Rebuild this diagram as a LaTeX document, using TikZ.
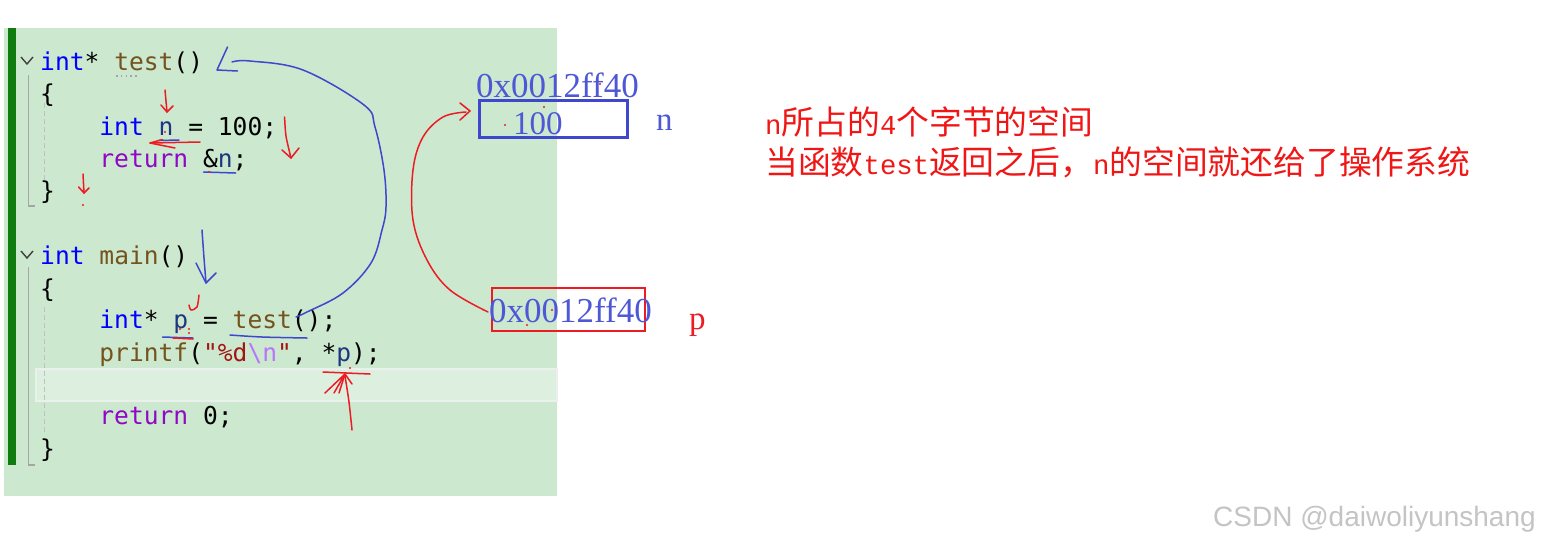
\documentclass[tikz,border=0pt]{standalone}
\usepackage{fontspec}
\newfontfamily\codefont{DejaVu Sans Mono}
\newfontfamily\cjk{Noto Sans CJK SC}
\newfontfamily\lmono{Liberation Mono}[Scale=0.833]
\newfontfamily\annot{Liberation Serif}
\newfontfamily\wmfont{Liberation Sans}
\definecolor{bg}{RGB}{204,232,207}
\definecolor{hl}{RGB}{221,239,222}
\definecolor{hlb}{RGB}{234,240,235}
\definecolor{bar}{RGB}{16,124,16}
\definecolor{kw}{RGB}{0,0,255}
\definecolor{fn}{RGB}{116,83,31}
\definecolor{var}{RGB}{31,55,127}
\definecolor{ctl}{RGB}{143,8,196}
\definecolor{str}{RGB}{163,21,21}
\definecolor{esc}{RGB}{183,118,251}
\definecolor{pblue}{RGB}{63,72,204}
\definecolor{pred}{RGB}{237,28,36}
\definecolor{ablue}{RGB}{78,88,214}
\definecolor{cred}{RGB}{240,22,22}
\definecolor{guide}{RGB}{165,165,165}
\definecolor{wmgray}{RGB}{196,196,196}
\tikzset{
  code/.style={anchor=base west, inner sep=0pt, font=\codefont\fontsize{24.6}{30}\selectfont},
  ann/.style={anchor=base west, inner sep=0pt, font=\annot\fontsize{33}{36}\selectfont, text=ablue},
  addr/.style={ann, font=\annot\fontsize{35}{38}\selectfont},
  note/.style={anchor=base west, inner sep=0pt, font=\cjk\fontsize{32.8}{36}\selectfont, text=cred},
  pen/.style={line width=1.5pt, line cap=round, line join=round},
  bpen/.style={pen, draw=pblue},
  rpen/.style={pen, draw=pred},
  rdot/.style={fill=pred, draw=none},
  chev/.style={draw=black!75, line width=1.4pt},
  guideline/.style={draw=guide, line width=1.2pt},
  dguide/.style={draw=guide!70, line width=1pt, dash pattern=on 5pt off 3pt},
}
\begin{document}
\begin{tikzpicture}[x=1pt,y=-1pt]
\useasboundingbox (0,0) rectangle (1541,542);
\fill[white] (0,0) rectangle (1541,542);
% editor background
\fill[bg] (4,28) rectangle (557,496);
\fill[bar] (8,28) rectangle (16,465);
\draw[fill=hl, draw=hlb, line width=2pt] (36,369) rectangle (557,401);
% guides
\draw[chev] (21,57) -- (27,64) -- (33,57);
\draw[chev] (21,251) -- (27,258) -- (33,251);
\draw[guideline] (28.6,75) -- (28.6,206) -- (35,206);
\draw[guideline] (28.6,267) -- (28.6,465) -- (35,465);
\draw[dguide] (44.6,103) -- (44.6,183);
\draw[dguide] (44.6,307) -- (44.6,433);
% code
\node[code] (l1) at (40,70) {\textcolor{kw}{int}* \textcolor{fn}{test}()};
\draw[draw=guide, line width=1.6pt, dash pattern=on 1.6pt off 3.2pt] (116,76) -- (138,76);
\node[code] (l2) at (40,102) {\{};
\node[code] (l3) at (99.2,135) {\textcolor{kw}{int} \textcolor{var}{n} = 100;};
\node[code] (l4) at (99.2,167) {\textcolor{ctl}{return} \&\textcolor{var}{n};};
\node[code] (l5) at (40,199) {\}};
\node[code] (l6) at (40,264) {\textcolor{kw}{int} \textcolor{fn}{main}()};
\node[code] (l7) at (40,297) {\{};
\node[code] (l8) at (99.2,328) {\textcolor{kw}{int}* \textcolor{var}{p} = \textcolor{fn}{test}();};
\node[code] (l9) at (99.2,361) {\textcolor{fn}{printf}(\textcolor{str}{"\%d}\textcolor{esc}{\textbackslash n}\textcolor{str}{"}, *\textcolor{var}{p});};
\node[code] (l10) at (99.2,424) {\textcolor{ctl}{return} 0;};
\node[code] (l11) at (40,457) {\}};
% memory boxes
\node[draw=pblue, line width=3pt, minimum width=148pt, minimum height=37pt, inner sep=0pt] (nbox) at (553,118.5) {};
\node[draw=pred, line width=2pt, minimum width=153pt, minimum height=43pt, inner sep=0pt] (pbox) at (568.5,309.5) {};
\node[addr] (naddr) at (476,97) {0x0012ff40};
\node[ann] (nval) at (513,134) {100};
\node[ann] (nname) at (656,130) {n};
\node[addr] (pval) at (489,322) {0x0012ff40};
\node[ann, text=pred] (pname) at (689,329) {p};
% notes
\node[note] (note1) at (765,134) {{\lmono n}所占的{\lmono 4}个字节的空间};
\node[note] (note2) at (765,174) {当函数{\lmono test}返回之后，{\lmono n}的空间就还给了操作系统};
% watermark
\node[anchor=base west, inner sep=0pt, font=\wmfont\fontsize{28}{30}\selectfont, text=wmgray] (wm) at (1213,526) {CSDN @daiwoliyunshang};
% blue strokes
\coordinate (callT) at (296,317);
\coordinate (defT) at (232,62);
\draw[bpen] plot[smooth, tension=0.6] coordinates {(callT) (307,312) (343,293) (371,263) (382,230) (386,207) (384,170) (375,127) (364,105) (303,70) (250,61) (defT)};
\draw[bpen] (227.5,47) -- (217,70) -- (237.5,71);
\draw[bpen] (203.6,172) -- (235.7,173);
\draw[bpen] (159,140.5) -- (179,140);
\draw[bpen] plot[smooth] coordinates {(202,230) (204,258) (206,283)};
\draw[bpen] (196,263) -- (206,283) -- (216,273);
\draw[bpen] (162.5,337) -- (193,338);
\draw[bpen] plot[smooth] coordinates {(230,335) (262,337) (307,338)};
% red strokes
\coordinate (pfrom) at (488,312);
\coordinate (nto) at (466,112);
\draw[rpen] plot[smooth, tension=0.6] coordinates {(pfrom) (450,290) (427,260) (413,220) (413,170) (423,137) (443,117) (nto)};
\draw[rpen] (460,103) -- (470,111) -- (460,120);
\draw[rpen] (165,90) -- (167,112);
\draw[rpen] (161,105) -- (167,112) -- (173,106);
\draw[rpen] (200,142) -- (150,143);
\draw[rpen] (162.5,139.5) -- (150,143) -- (175,148);
\draw[rpen] plot[smooth] coordinates {(284.6,117) (286,136) (291,158)};
\draw[rpen] (282,150) -- (291,158) -- (299,148);
\draw[rpen] (83,174) -- (84,193);
\draw[rpen] (78.6,187) -- (84,193) -- (89,188);
\draw[rpen] plot[smooth] coordinates {(199,295) (197,307) (191,310) (189,305)};
\draw[rpen] (173,338) -- (193,339);
\draw[rpen] plot[smooth] coordinates {(352,430) (349,402) (345,376)};
\draw[rpen] (323,372) -- (370,374);
\draw[rpen] (325,393) -- (345,374) -- (334,393);
\draw[rpen] (339,393) -- (345,374) -- (352,384);
\foreach \p in {(83,205),(165,132),(209,172),(180,329),(189,329),(189,333),(350,368),(527,325),(552,310),(600,84),(544,107),(505,125)}
  \fill[rdot] \p circle (1.2pt);
\end{tikzpicture}
\end{document}
